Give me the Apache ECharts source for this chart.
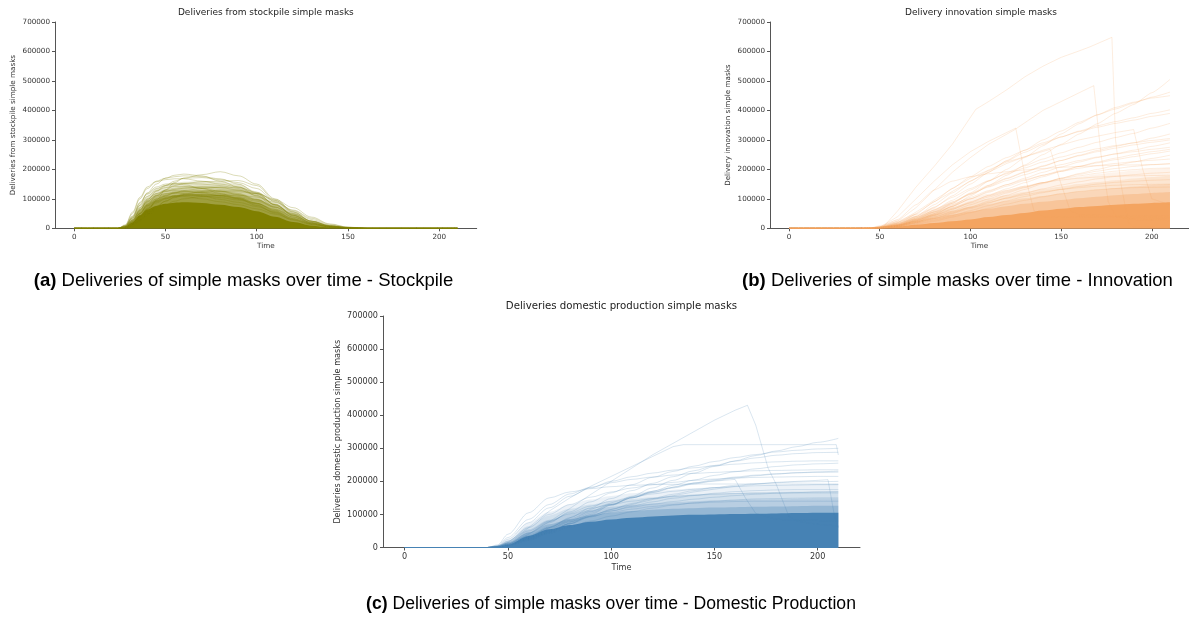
<!DOCTYPE html>
<html>
<head>
<meta charset="utf-8">
<script src="https://cdn.jsdelivr.net/npm/echarts@6/dist/echarts.min.js"></script>
<style>
html,body{margin:0;padding:0;background:#fff;}
#chart{width:1189px;height:619px;}
</style>
</head>
<body>
<div id="chart"></div>
<script>
// ---------------- DATA (values in thousands of masks) ----------------
const X_TICKS = [0, 50, 100, 150, 200];

// (a) Stockpile
const TIME_A = [0,24,28,32,36,40,45,50,55,60,70,80,90,100,110,120,130,140,150,160,210];
// density envelopes, outermost first (estimated from the shading of the bundle)
const BANDS_A = [
  [0,0,8,38,78,110,135,148,155,158,160,158,150,125,88,52,24,8,2,0,0],
  [0,0,7,33,70,100,120,132,138,142,144,142,134,112,80,46,20,6,1.5,0,0],
  [0,0,6,29,62,90,108,118,125,128,130,128,120,100,71,40,18,5,1,0,0],
  [0,0,5,25,54,80,96,106,112,115,116,113,105,87,61,34,15,4,0.8,0,0]
];
const CORE_A = [0,0,4,20,44,64,76,83,87,88,86,80,72,58,39,21,9,2.5,0.5,0,0];
const LINES_A = [
  [0,0,1,8,25,55,95,130,155,170,182,192,178,150,100,57,25,8,2,0,0],
  [0,0,10,50,100,135,158,165,168,168,160,150,140,118,80,45,18,5,1,0,0],
  [0,0,6,35,80,120,150,170,180,184,178,160,140,110,72,38,15,4,1,0,0],
  [0,0,4,25,60,95,125,145,160,170,172,165,155,135,90,52,22,7,2,0,0],
  [0,0,3,20,50,80,110,130,145,152,158,160,162,145,95,55,24,8,2,0,0],
  [0,0,8,40,85,115,135,145,150,152,150,145,135,115,82,48,20,6,1,0,0],
  [0,0,5,28,62,90,112,125,132,136,140,138,130,112,80,45,18,5,1,0,0],
  [0,0,2,14,38,65,92,110,120,128,135,140,138,122,92,55,24,8,2,0,0],
  [0,0,7,35,70,100,118,126,128,126,120,110,100,85,62,38,17,6,1,0,0],
  [0,0,3,18,42,68,90,102,110,116,125,130,128,118,95,60,30,10,3,0,0],
  [0,0,9,42,88,118,140,150,152,148,135,118,100,78,52,28,11,3,1,0,0],
  [0,0,4,22,50,76,98,112,120,124,122,116,108,96,76,50,25,9,2,0,0],
  [0,0,1,9,26,48,72,92,106,115,122,125,124,118,98,70,38,15,4,0,0],
  [0,0,6,30,64,92,110,118,120,118,110,98,88,74,55,34,15,5,1,0,0],
  [0,0,2,12,30,52,75,92,104,112,116,112,104,92,72,48,24,9,2,0,0],
  [0,0,5,26,56,82,100,108,110,108,100,90,80,66,48,30,14,5,1,0,0],
  [0,0,12,55,105,140,160,170,175,178,175,168,150,120,80,42,15,4,1,0,0],
  [0,0,3,16,40,64,86,100,108,112,110,104,96,84,64,42,20,7,2,0,0],
  [0,0,8,38,78,108,128,138,142,142,136,126,114,98,72,44,20,6,1,0,0],
  [0,0,2,10,26,44,64,80,92,100,108,112,112,106,88,62,34,13,4,1,0]
];

// (b) Innovation
const TIME_B = [0,40,45,50,60,70,80,90,100,110,120,130,140,150,160,170,180,190,200,210];
const BANDS_B = [
  [0,0,2.5,11,29,49,69,86,102,117,131,144,156,166,175,183,190,196,201,205],
  [0,0,2,9,24,41,58,73,87,100,112,123,133,142,150,157,163,169,174,178],
  [0,0,1.5,7,19,33,47,60,72,83,93,102,110,118,125,131,137,142,147,150],
  [0,0,1,5,14,25,36,47,57,66,75,83,90,96,102,107,112,116,120,123]
];
const CORE_B = [0,0,0.5,2,6,12,18,24,30,38,45,52,60,66,72,76,80,83,86,88];
const LINES_B = [
  [0,0,0,1,4,20,45,75,110,145,180,215,250,285,320,355,390,420,460,505],
  [0,0,0,2,10,35,70,110,150,190,230,265,300,330,360,385,405,425,445,462],
  [0,0,0,1,6,25,50,85,120,160,200,240,280,320,355,385,410,428,442,450],
  [0,0,0,2,12,40,80,120,160,195,228,258,285,310,330,348,362,375,390,402],
  [0,0,0,3,15,48,90,135,175,210,240,265,290,310,328,343,356,367,380,390],
  [0,0,0,2,10,32,62,95,130,160,188,212,235,256,275,292,308,322,340,356],
  [0,0,0,2,9,28,55,85,115,142,168,190,210,230,248,264,278,290,306,320],
  [0,0,0,3,14,40,72,105,135,162,185,205,225,242,257,270,281,290,298,305],
  [0,0,0,2,8,25,48,74,100,125,148,170,190,208,225,240,253,265,278,290],
  [0,0,0,3,12,35,62,90,116,140,162,182,200,216,230,242,252,260,268,275],
  [0,0,0,2,9,27,50,75,100,122,143,162,180,196,210,222,233,243,253,262],
  [0,0,0,1,6,18,34,52,72,92,112,132,152,170,186,200,213,225,237,248],
  [0,0,0,2,10,30,55,80,105,128,148,165,180,193,204,213,220,226,231,235],
  [0,0,0,1,7,20,38,58,80,100,120,138,155,170,183,194,203,210,216,220],
  [0,0,0,2,8,24,44,65,86,106,124,140,155,168,178,187,194,199,203,205],
  [0,0,0,1,6,18,33,50,68,86,103,119,134,147,158,168,176,182,187,190],
  [0,0,0,2,9,26,46,68,90,110,128,143,155,164,170,174,177,178,179,180],
  [0,0,0,1,5,15,28,43,60,77,93,108,121,132,142,150,156,160,163,165],
  [0,0,0,2,8,22,38,55,72,88,102,114,124,132,138,143,146,148,149,150],
  [0,0,0,1,4,12,24,38,53,68,82,95,107,117,125,131,135,138,139,140],
  [0,0,1,5,30,80,130,160,175,185,192,198,203,207,210,212,214,215,216,218],
  [0,0,0,2,10,30,58,88,118,146,170,192,212,230,246,260,272,283,292,300],
  [0,0,0,1,7,22,42,64,88,112,134,155,175,193,210,225,238,250,260,268]
];
// (b) runs that end in a sharp drop: [time, value]
const DROPS_B = [
  [[0,0],[40,0],[52,5],[60,60],[70,140],[80,210],[90,285],[103,404],[110,430],[120,470],[130,514],[140,550],[150,580],[160,602],[166,616],[178,648],[180,300],[183,150],[187,20],[190,5],[200,3],[210,2]],
  [[0,0],[40,0],[50,3],[60,25],[70,70],[80,130],[90,190],[100,240],[110,285],[124,333],[140,400],[150,430],[160,460],[168,484],[172,250],[176,90],[180,40],[190,30],[200,28],[210,26]],
  [[0,0],[40,0],[50,4],[60,40],[70,100],[80,160],[90,215],[100,260],[110,295],[125,340],[130,180],[135,60],[140,40],[160,38],[210,35]],
  [[0,0],[40,0],[50,2],[60,20],[70,55],[80,95],[90,135],[100,170],[120,225],[144,268],[150,150],[155,60],[160,45],[210,40]],
  [[0,0],[40,0],[50,2],[60,18],[70,50],[80,90],[100,160],[120,220],[140,265],[160,300],[180,325],[190,335],[195,200],[200,100],[210,80]]
];

// (c) Domestic production
const TIME_C = [0,40,45,50,60,70,80,90,100,110,120,130,140,150,160,170,180,190,200,210];
const BANDS_C = [
  [0,0,5,24,75,108,130,145,156,164,170,175,179,182,185,187,189,190,191,192],
  [0,0,4,20,65,97,117,130,140,147,152,157,160,163,165,167,168,169,170,170],
  [0,0,3,16,55,84,102,114,123,129,133,137,140,142,144,145,146,147,148,148],
  [0,0,2,12,45,70,86,97,105,110,114,117,119,121,122,123,124,125,126,126]
];
const CORE_C = [0,0,1,8,35,55,68,78,85,90,94,97,99,100,101,102,103,104,105,105];
const LINES_C = [
  [0,0,1,6,22,45,72,100,128,155,180,203,225,245,262,278,292,305,318,330],
  [0,0,3,14,42,75,108,138,165,190,212,230,246,260,272,281,289,294,298,300],
  [0,0,2,10,32,60,90,120,148,172,194,214,232,248,261,271,279,284,287,288],
  [0,0,5,25,75,120,155,180,200,214,225,234,241,247,252,256,259,261,262,262],
  [0,0,2,9,28,52,78,104,128,150,170,188,204,218,229,238,245,250,253,255],
  [0,0,6,30,85,130,162,182,196,206,213,219,224,227,230,232,233,234,235,235],
  [0,0,2,10,30,55,82,108,130,150,167,182,195,205,213,219,223,226,227,228],
  [0,0,4,20,60,100,130,152,168,180,190,197,203,207,210,212,213,214,215,215],
  [0,0,2,8,26,48,72,95,115,133,148,161,172,181,188,193,196,198,199,200],
  [0,0,3,15,45,78,105,125,140,152,162,170,176,181,184,187,188,189,190,190],
  [0,0,2,9,28,50,72,92,110,125,138,149,157,164,169,172,174,175,175,175],
  [0,0,4,18,50,80,102,118,130,140,148,154,158,161,163,164,165,165,165,165],
  [0,0,2,8,24,43,62,80,95,108,119,128,135,140,144,147,148,149,150,150],
  [0,0,3,12,35,58,78,94,106,116,124,130,134,137,139,140,140,140,140,140],
  [0,0,8,40,105,150,168,178,184,188,190,191,192,192,192,192,192,192,192,192],
  [0,0,2,11,34,60,86,110,131,150,166,180,192,202,210,217,222,226,229,231],
  [0,0,3,13,38,62,82,98,111,122,131,139,146,152,157,161,164,166,168,169]
];
const DROPS_C = [
  [[0,0],[43,0],[50,8],[60,40],[70,78],[80,118],[90,160],[100,200],[110,240],[120,280],[130,315],[140,350],[150,385],[160,415],[166,430],[170,370],[176,240],[180,190],[186,95],[190,80],[200,70],[210,65]],
  [[0,0],[43,0],[50,15],[60,60],[70,110],[80,150],[90,185],[100,215],[110,245],[120,275],[130,305],[135,311],[209,311],[210,280]],
  [[0,0],[43,0],[50,5],[60,30],[70,60],[80,90],[90,115],[100,135],[120,170],[140,195],[160,206],[165,150],[170,103],[180,85],[210,80]],
  [[0,0],[43,0],[50,4],[60,25],[80,75],[100,115],[120,145],[140,168],[160,185],[180,197],[200,203],[205,205],[208,100],[210,60]]
];

const TITLES = ['Deliveries from stockpile simple masks', 'Delivery innovation simple masks', 'Deliveries domestic production simple masks'];
const Y_NAMES = ['Deliveries from stockpile simple masks', 'Delivery innovation simple masks', 'Deliveries domestic production simple masks'];
const CAPTION_TAGS = ['(a)', '(b)', '(c)'];
const CAPTIONS = ['Deliveries of simple masks over time - Stockpile', 'Deliveries of simple masks over time - Innovation', 'Deliveries of simple masks over time - Domestic Production'];
const COLORS = ['#808000', '#F4A460', '#4682B4'];
const UNIT = 1000;

// ---------------- BUILD ----------------
const chart = echarts.init(document.getElementById('chart'), null, {renderer: 'canvas'});
const FONT = 'DejaVu Sans';
const grids = [
  {left: 55, top: 22, width: 421.7, height: 206.3, fs: 7.2, tfs: 9},
  {left: 770, top: 22, width: 422, height: 206.3, fs: 7.2, tfs: 9},
  {left: 383, top: 316, width: 477, height: 231.5, fs: 8.1, tfs: 10.2}
];
const BAND_OPACITY = [
  [0.18, 0.22, 0.3, 0.45],
  [0.13, 0.17, 0.22, 0.35],
  [0.11, 0.14, 0.19, 0.3]
];

function pairs(times, vals) { return times.map((t, i) => [t, vals[i] * UNIT]); }
function scale(pts) { return pts.map(p => [p[0], p[1] * UNIT]); }

const series = [];
function band(gi, times, vals, opacity) {
  series.push({type: 'line', xAxisIndex: gi, yAxisIndex: gi, data: pairs(times, vals), showSymbol: false, silent: true,
    smooth: 0.3, smoothMonotone: 'x', lineStyle: {width: 0}, areaStyle: {color: COLORS[gi], opacity: opacity}, z: 2});
}
function line(gi, data, opacity, smooth) {
  series.push({type: 'line', xAxisIndex: gi, yAxisIndex: gi, data: data, showSymbol: false, silent: true,
    smooth: smooth, smoothMonotone: 'x', lineStyle: {width: 1, color: COLORS[gi], opacity: opacity}, z: 3});
}

BANDS_A.forEach((v, k) => band(0, TIME_A, v, BAND_OPACITY[0][k]));
BANDS_B.forEach((v, k) => band(1, TIME_B, v, BAND_OPACITY[1][k]));
BANDS_C.forEach((v, k) => band(2, TIME_C, v, BAND_OPACITY[2][k]));
LINES_A.forEach(v => line(0, pairs(TIME_A, v), 0.28, 0.35));
LINES_B.forEach(v => line(1, pairs(TIME_B, v), 0.2, 0.15));
DROPS_B.forEach(p => line(1, scale(p), 0.2, false));
LINES_C.forEach(v => line(2, pairs(TIME_C, v), 0.2, 0.3));
DROPS_C.forEach(p => line(2, scale(p), 0.2, false));
band(0, TIME_A, CORE_A, 1);
band(1, TIME_B, CORE_B, 1);
band(2, TIME_C, CORE_C, 1);
// baseline runs at zero before activity
[0,1,2].forEach(gi => line(gi, [[0,0],[210,0]], 1, false));

const xAxes = [], yAxes = [], titles = [];
grids.forEach((g, i) => {
  xAxes.push({type: 'value', gridIndex: i, min: -10.5, max: 220.5,
    name: 'Time', nameLocation: 'middle', nameGap: i === 2 ? 16 : 14,
    nameTextStyle: {fontFamily: FONT, fontSize: g.fs, color: '#333'},
    axisLine: {show: true, onZero: false, lineStyle: {color: '#555', width: 1}},
    axisTick: {show: true, inside: false, length: 3, lineStyle: {color: '#555'}, customValues: X_TICKS},
    axisLabel: {fontFamily: FONT, fontSize: g.fs, color: '#333', margin: 5, customValues: X_TICKS},
    splitLine: {show: false}});
  yAxes.push({type: 'value', gridIndex: i, min: 0, max: 700000, interval: 100000,
    name: Y_NAMES[i], nameLocation: 'middle', nameGap: i === 2 ? 41 : 38, nameRotate: 90,
    nameTextStyle: {fontFamily: FONT, fontSize: g.fs, color: '#333'},
    axisLine: {show: true, onZero: false, lineStyle: {color: '#555', width: 1}},
    axisTick: {show: true, inside: false, length: 3, lineStyle: {color: '#555'}},
    axisLabel: {fontFamily: FONT, fontSize: g.fs, color: '#333', margin: 5, formatter: v => String(v)},
    splitLine: {show: false}});
  titles.push({text: TITLES[i], left: g.left + g.width / 2, top: i === 2 ? 301 : 8.5, textAlign: 'center', padding: 0,
    textStyle: {fontFamily: FONT, fontSize: g.tfs, fontWeight: 'normal', color: '#222'}});
});
const capPos = [[243.5, 271.5, 18.5], [957.5, 271.5, 18.5], [611, 595, 17.6]];
CAPTIONS.forEach((c, i) => {
  const fs = capPos[i][2];
  titles.push({text: '{b|' + CAPTION_TAGS[i] + '}{n| ' + c + '}', left: capPos[i][0], top: capPos[i][1], textAlign: 'center', padding: 0,
    textStyle: {rich: {
      b: {fontFamily: 'Liberation Sans', fontSize: fs, fontWeight: 'bold', color: '#000'},
      n: {fontFamily: 'Liberation Sans', fontSize: fs, fontWeight: 'normal', color: '#000'}}}});
});

chart.setOption({
  animation: false,
  backgroundColor: '#fff',
  title: titles,
  grid: grids.map(g => ({left: g.left, top: g.top, width: g.width, height: g.height})),
  xAxis: xAxes,
  yAxis: yAxes,
  series: series
});
</script>
</body>
</html>
